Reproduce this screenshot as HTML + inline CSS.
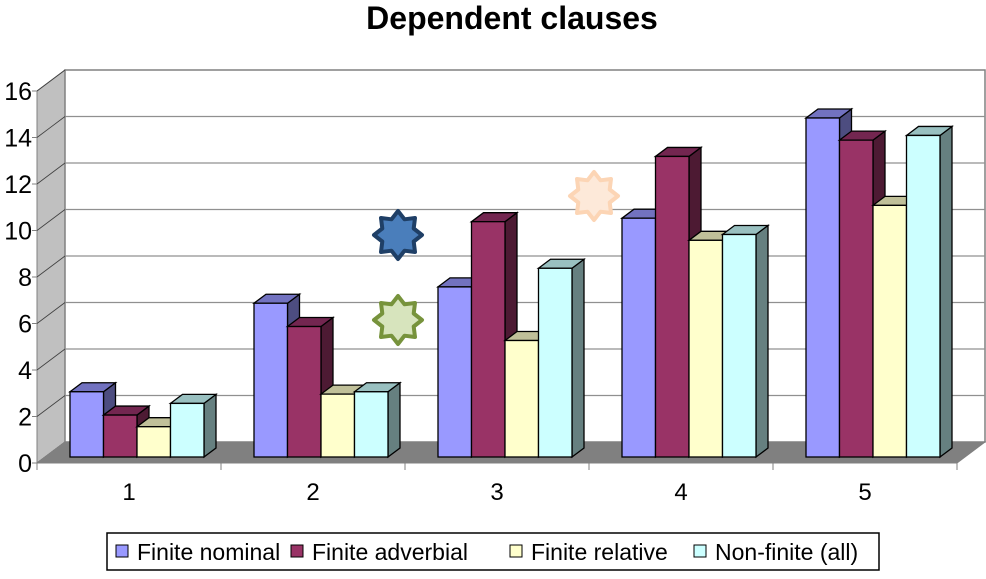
<!DOCTYPE html>
<html><head><meta charset="utf-8"><style>
body{margin:0;background:#fff;}
svg{font-family:"Liberation Sans",Arial,sans-serif;}
</style></head><body>
<svg id="c" width="986" height="574" viewBox="0 0 986 574">
<text x="512" y="29" text-anchor="middle" font-size="32" font-weight="bold">Dependent clauses</text>
<g id="walls"></g>
<g id="bars"></g>
<g id="stars"></g>
<g id="legend">
<rect x="107" y="533" width="772" height="37" fill="#fff" stroke="#000" stroke-width="1.5"/>
</g>
</svg>
<script>
const categories=["1","2","3","4","5"];
const seriesNames=["Finite nominal","Finite adverbial","Finite relative","Non-finite (all)"];
const finiteNominal=[2.8,6.6,7.3,10.25,14.55];
const finiteAdverbial=[1.8,5.6,10.1,12.9,13.6];
const finiteRelative=[1.3,2.7,5.0,9.3,10.8];
const nonFinite=[2.3,2.8,8.1,9.55,13.8];
const yTicks=[0,2,4,6,8,10,12,14,16];
const series=[finiteNominal,finiteAdverbial,finiteRelative,nonFinite];
const fronts=["#9999ff","#993366","#ffffcc","#ccffff"];
const tops=["#7272c0","#732650","#c0c099","#99c0c0"];
const sides=["#4d4d80","#4d1a33","#80806a","#668080"];
const NS="http://www.w3.org/2000/svg";
function mk(t,a,p){const e=document.createElementNS(NS,t);for(const k in a)e.setAttribute(k,a[k]);p.appendChild(e);return e;}
const X0=37,X1=957,DX=28,DY=-21,YF=463,UNIT=23.25;
function yFront(v){return YF-v*UNIT;}
const W=document.getElementById('walls');
let lw=mk('polygon',{points:`${X0},${YF} ${X0+DX},${YF+DY} ${X0+DX},${yFront(16)+DY} ${X0},${yFront(16)}`,fill:"#c0c0c0",stroke:"#808080"},W);

let bw=mk('rect',{x:X0+DX,y:yFront(16)+DY,width:X1-X0,height:16*UNIT,fill:"#fff",stroke:"#808080","stroke-width":1.5},W);

yTicks.forEach(v=>{
 if(v>0&&v<16){const g=mk('line',{x1:X0+DX,x2:X1+DX,y1:yFront(v)+DY,y2:yFront(v)+DY,stroke:"#909090","stroke-width":1.3},W);
 }
 const d=mk('line',{x1:X0,y1:yFront(v),x2:X0+DX,y2:yFront(v)+DY,stroke:"#404040","stroke-width":0.8},W);
 
 mk('line',{x1:X0-5,x2:X0,y1:yFront(v),y2:yFront(v),stroke:"#808080"},W);
 const t=mk('text',{x:X0-5,y:yFront(v)+9,"text-anchor":"end","font-size":25},W);t.textContent=v;
 
});
let fl=mk('polygon',{points:`${X0},${YF} ${X1},${YF} ${X1+DX},${YF+DY} ${X0+DX},${YF+DY}`,fill:"#808080",stroke:"#808080"},W);

mk('line',{x1:X0,x2:X1,y1:YF,y2:YF,stroke:"#808080"},W);
const cw=(X1-X0)/categories.length;
categories.forEach((c,i)=>{
 mk('line',{x1:X0+i*cw,x2:X0+i*cw,y1:YF,y2:YF+7,stroke:"#808080"},W);
 const t=mk('text',{x:X0+i*cw+cw/2,y:500,"text-anchor":"middle","font-size":24},W);t.textContent=c;
 
});
mk('line',{x1:X1,x2:X1,y1:YF,y2:YF+7,stroke:"#808080"},W);
const B=document.getElementById('bars');
const BW=33.5,bdx=12,bdy=-9,YB=457,BU=23.3;
categories.forEach((c,i)=>{
 series.forEach((s,k)=>{
  const x=X0+i*cw+33+k*BW, yt=YB-s[i]*BU;
  const g=mk('g',{},B);
  
  
  mk('polygon',{points:`${x+BW},${YB} ${x+BW+bdx},${YB+bdy} ${x+BW+bdx},${yt+bdy} ${x+BW},${yt}`,fill:sides[k],stroke:"#000","stroke-width":1.3},g);
  mk('polygon',{points:`${x},${yt} ${x+bdx},${yt+bdy} ${x+BW+bdx},${yt+bdy} ${x+BW},${yt}`,fill:tops[k],stroke:"#000","stroke-width":1.3},g);
  mk('rect',{x:x,y:yt,width:BW,height:YB-yt,fill:fronts[k],stroke:"#000","stroke-width":1.3},g);
 });
});
function star(cx,cy,ro,ri,fill,stroke,name){
 let p=[];for(let j=0;j<16;j++){const a=Math.PI*j/8-Math.PI/2;const r=j%2?ri:ro;p.push((cx+r*Math.cos(a)).toFixed(1)+","+(cy+r*Math.sin(a)).toFixed(1));}
 const s=mk('polygon',{points:p.join(" "),fill:fill,stroke:stroke,"stroke-width":4,"stroke-linejoin":"round"},document.getElementById('stars'));
 
}
star(398,235,24,17,"#4a7ebb","#1f3f66","star-blue");
star(398,320,24,17,"#d7e4bd","#77933c","star-green");
star(594,196,24,17,"#fde9d9","#fcd5b5","star-peach");
const L=document.getElementById('legend');
const lx=[116,291,510,694];
seriesNames.forEach((n,k)=>{
 const r=mk('rect',{x:lx[k],y:545,width:12,height:12,fill:fronts[k],stroke:"#000"},L);
 
 const t=mk('text',{x:lx[k]+21,y:560,"font-size":23},L);t.textContent=n;
 
});
</script>
</body></html>
